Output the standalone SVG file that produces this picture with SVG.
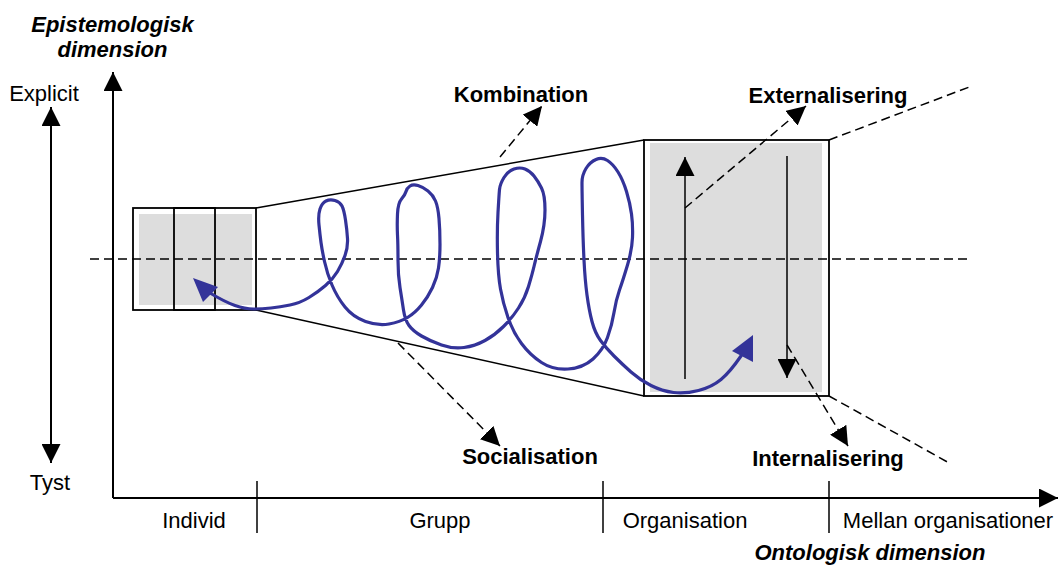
<svg xmlns="http://www.w3.org/2000/svg" width="1058" height="565" viewBox="0 0 1058 565">
<style>
.t{font-family:"Liberation Sans",Arial,sans-serif;font-size:22px;fill:#000}
.b{font-weight:bold}
.bi{font-weight:bold;font-style:italic}
.ax{stroke:#000;stroke-width:2;fill:none}
.ln{stroke:#000;stroke-width:1.5;fill:none}
.dash{stroke:#000;stroke-width:1.5;fill:none;stroke-dasharray:9 5}
.box{fill:none;stroke:#000;stroke-width:1.8}
.gray{fill:#dddddd;stroke:none}
.sp{fill:none;stroke:#333399;stroke-width:3.2;stroke-linejoin:round;stroke-linecap:round}
.ah{fill:#333399;stroke:none}
</style>
<defs>
<marker id="arr" viewBox="0 0 20 20" markerUnits="userSpaceOnUse" markerWidth="19" markerHeight="19" refX="20" refY="10" orient="auto-start-reverse">
<path d="M0,0 L20,10 L0,20 z" fill="#000" stroke="none"/>
</marker>
</defs>
<rect width="1058" height="565" fill="#fff"/>

<g id="epistemologisk-axis">
<line class="ax" x1="113" y1="498" x2="113" y2="72" marker-end="url(#arr)"/>
<text class="t bi" x="112.5" y="32" text-anchor="middle">Epistemologisk</text>
<text class="t bi" x="112.5" y="57" text-anchor="middle">dimension</text>
</g>
<g id="explicit-tyst">
<line class="ax" x1="51" y1="107" x2="51" y2="463" marker-start="url(#arr)" marker-end="url(#arr)"/>
<text class="t" x="44" y="101" text-anchor="middle">Explicit</text>
<text class="t" x="50" y="490" text-anchor="middle">Tyst</text>
</g>
<g id="ontologisk-axis">
<line class="ax" x1="113" y1="498" x2="1058" y2="498" marker-end="url(#arr)"/>
<line class="ln" x1="257" y1="481" x2="257" y2="533"/>
<line class="ln" x1="603" y1="481" x2="603" y2="533"/>
<line class="ln" x1="829" y1="481" x2="829" y2="533"/>
<text class="t" x="194" y="528" text-anchor="middle">Individ</text>
<text class="t" x="440" y="528" text-anchor="middle">Grupp</text>
<text class="t" x="685" y="528" text-anchor="middle">Organisation</text>
<text class="t" x="948" y="528" text-anchor="middle">Mellan organisationer</text>
<text class="t bi" x="870" y="560" text-anchor="middle">Ontologisk dimension</text>
</g>

<g id="individ-box">
<rect class="gray" x="139" y="214" width="113" height="91"/>
<rect class="box" x="133" y="208" width="123" height="102"/>
<rect class="box" x="174" y="208" width="41" height="102"/>
</g>
<g id="organisation-box">
<rect class="gray" x="650" y="143" width="172" height="249"/>
<rect class="box" x="644" y="140" width="185" height="256"/>
</g>

<g id="connectors">
<line class="dash" x1="90" y1="259" x2="972" y2="259"/>
<line class="ln" x1="256" y1="208" x2="644" y2="140"/>
<line class="ln" x1="256" y1="310" x2="644" y2="396"/>
<line class="dash" x1="829" y1="140" x2="972" y2="86"/>
<line class="dash" x1="829" y1="396" x2="951" y2="464"/>
<line class="ln" x1="685" y1="379" x2="685" y2="157" marker-end="url(#arr)"/>
<line class="ln" x1="787" y1="156" x2="787" y2="378" marker-end="url(#arr)"/>
<line class="dash" x1="685" y1="208" x2="806" y2="106" marker-end="url(#arr)"/>
<line class="dash" x1="787" y1="345" x2="848" y2="446" marker-end="url(#arr)"/>
<line class="dash" x1="398" y1="343" x2="500" y2="446" marker-end="url(#arr)"/>
<line class="dash" x1="500" y1="157" x2="542" y2="106" marker-end="url(#arr)"/>
<path id="spiral" class="sp" d="M210,293 Q225,302 235,305.5 Q245,309 253.5,309 Q262,309 271,308 Q280,307 290,305 Q300,303 309,297.5 Q318,292 325.5,285.5 Q333,279 337.5,271.5 Q342,264 345,255.5 Q348,247 347.5,238.5 Q347,230 345.5,220 Q344,210 342,206 Q340,202 335,200.5 Q330,199 326,201 Q322,203 320,209 Q318,215 319,225 Q320,235 321,242.5 Q322,250 324.5,261.5 Q327,273 332,285 Q337,297 345,307 Q353,317 365.5,321.5 Q378,326 389,324 Q400,322 407.5,317.5 Q415,313 421.5,305 Q428,297 432.5,287.5 Q437,278 438.5,268 Q440,258 440,244 Q440,230 439,218.5 Q438,207 435.5,201 Q433,195 428,191 Q423,187 418,185.5 Q413,184 410,186 Q407,188 406,191.5 Q405,195 401.5,199 Q398,203 397.5,214 Q397,225 397.5,235 Q398,245 398,260 Q398,275 400,287.5 Q402,300 403.5,310 Q405,320 409,325.5 Q413,331 421.5,336 Q430,341 441.5,345 Q453,349 464,347.5 Q475,346 485,340.5 Q495,335 503.5,326.5 Q512,318 518.5,308 Q525,298 528.5,286.5 Q532,275 534,266.5 Q536,258 540.5,241.5 Q545,225 545,210 Q545,195 541.5,188 Q538,181 534,176 Q530,171 525,169 Q520,167 514,169 Q508,171 504,177.5 Q500,184 499.5,189.5 Q499,195 498,212.5 Q497,230 497.5,252.5 Q498,275 500.5,289 Q503,303 508,317.5 Q513,332 521.5,343.5 Q530,355 541.5,362.5 Q553,370 568,369 Q583,368 593,359 Q603,350 607.5,337.5 Q612,325 614,312.5 Q616,300 619.5,290 Q623,280 627.5,265 Q632,250 632.5,237.5 Q633,225 631.5,214 Q630,203 626.5,191.5 Q623,180 618,172 Q613,164 607.5,160.5 Q602,157 596,159.5 Q590,162 586,168.5 Q582,175 582,182.5 Q582,190 582.5,215 Q583,240 584,260 Q585,280 587,295 Q589,310 592,321.5 Q595,333 600.5,340.5 Q606,348 614,356 Q622,364 631,372 Q640,380 651,385.5 Q662,391 673.5,392.5 Q685,394 698.5,390.5 Q712,387 721,379.5 Q730,372 741,356"/>
<polygon class="ah" points="193,278 218,287 203,302"/>
<polygon class="ah" points="753,335 732,351 753,362"/>
</g>

<g id="labels">
<text class="t b" x="521" y="102" text-anchor="middle">Kombination</text>
<text class="t b" x="828" y="103" text-anchor="middle">Externalisering</text>
<text class="t b" x="530" y="464" text-anchor="middle">Socialisation</text>
<text class="t b" x="828" y="466" text-anchor="middle">Internalisering</text>
</g>
</svg>
